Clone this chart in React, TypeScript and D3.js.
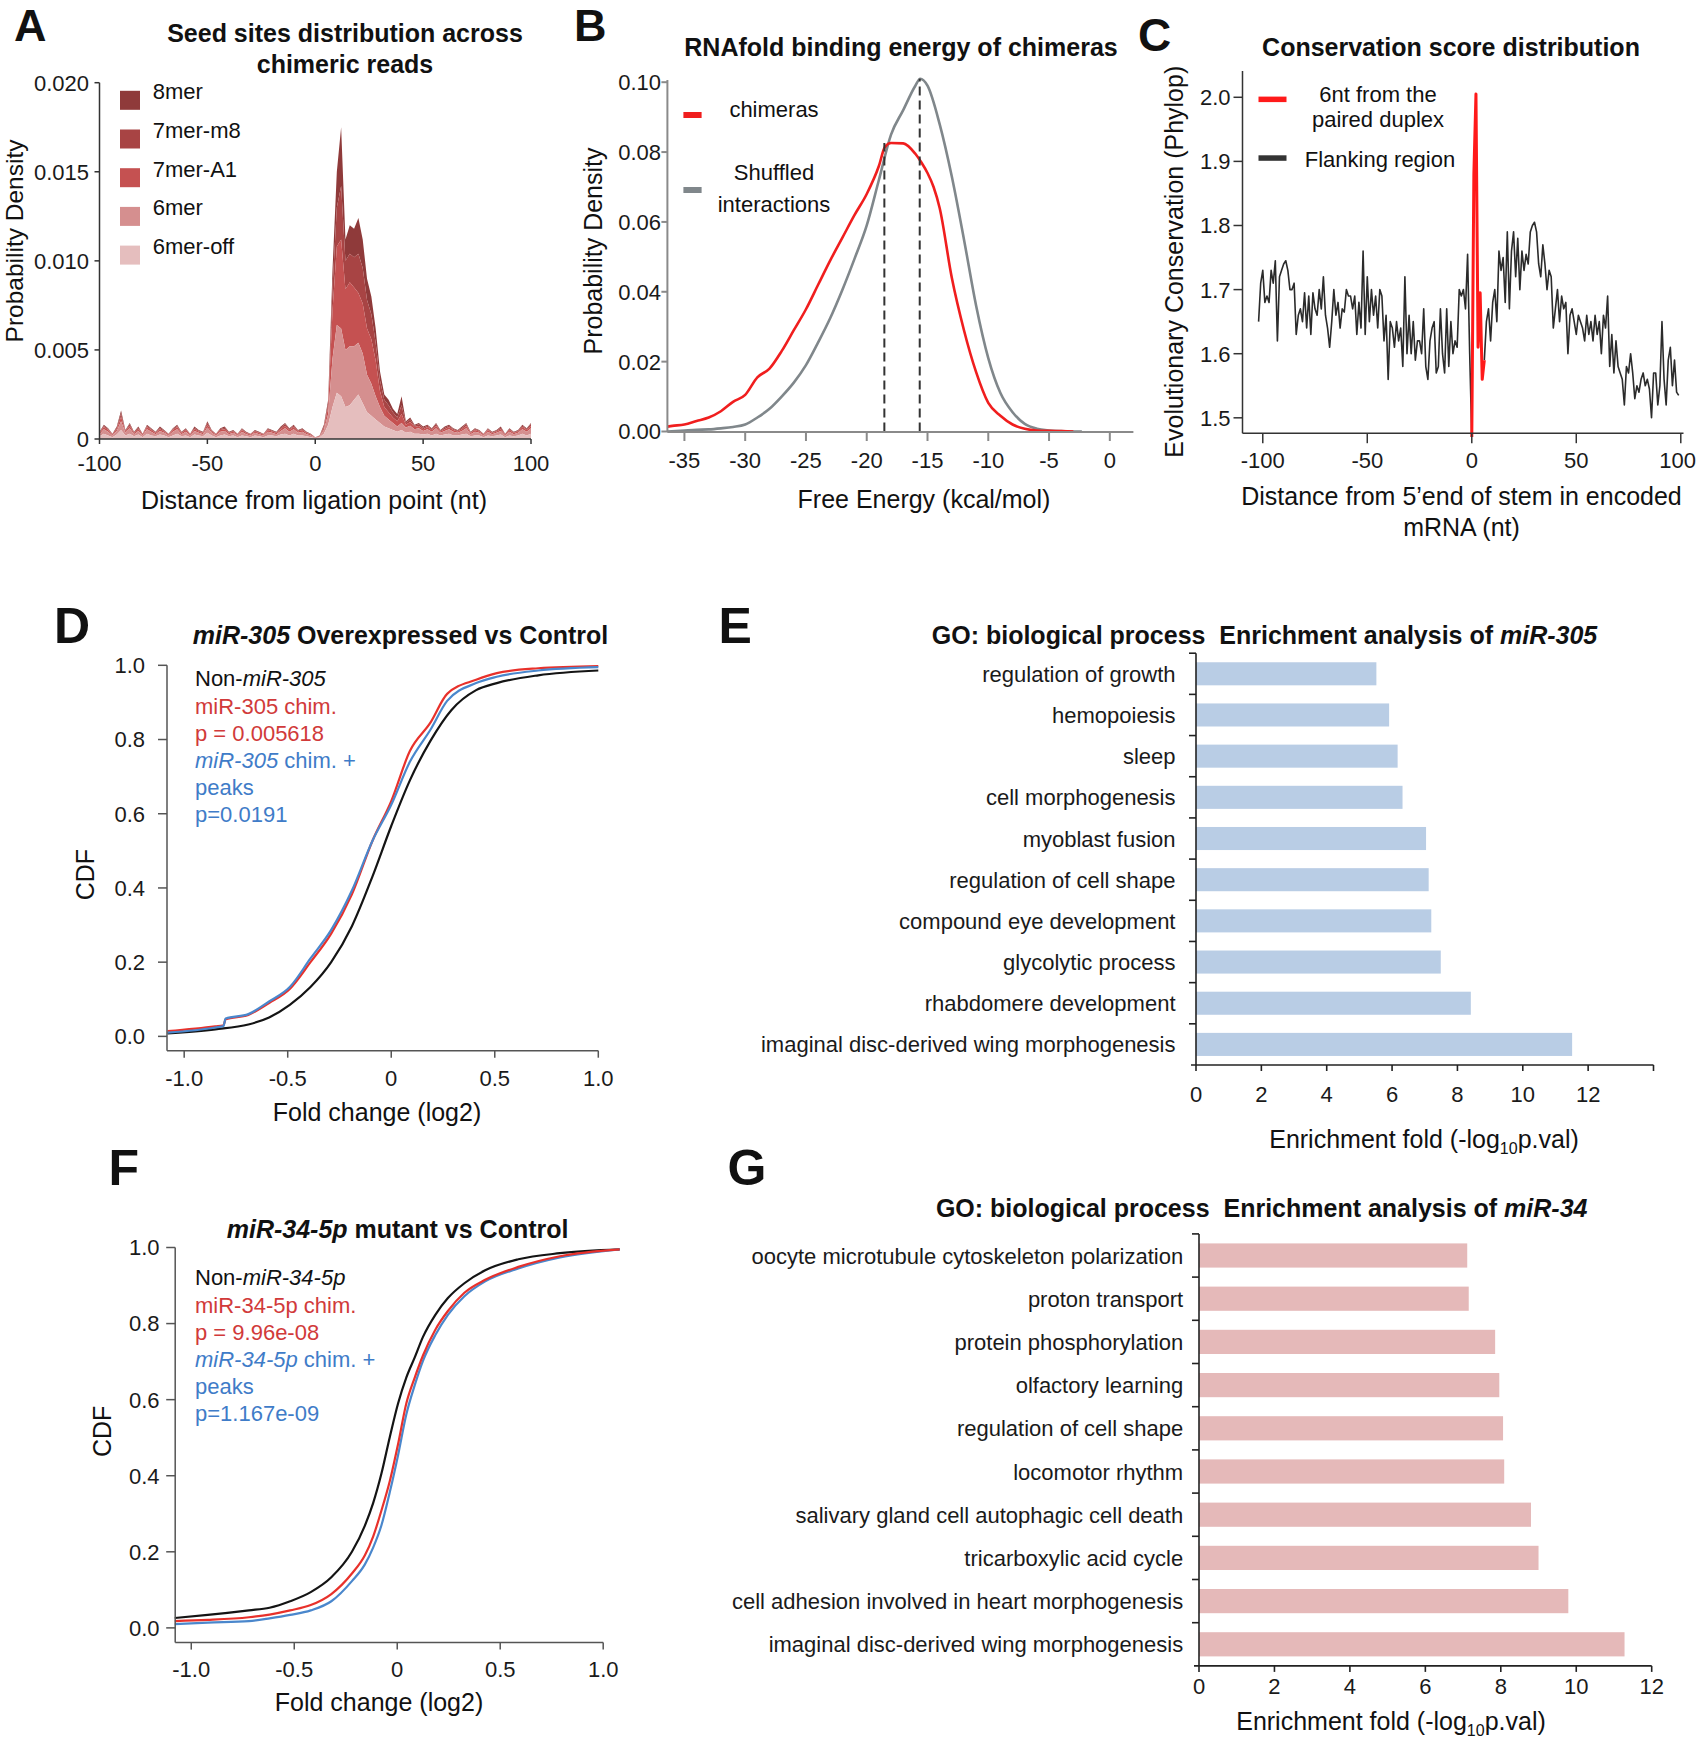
import React, { useEffect, useRef } from 'react';
import * as d3 from 'd3';

const W = 1697;
const H = 1739;
const FONT = "'Liberation Sans', Arial, Helvetica, sans-serif";

// ---------- A: seed sites density (units of 1e-4), -100..100 nt, every 2 nt
const SEED_START = -100;
const SEED_STEP = 2;
const seedLabels = ['8mer', '7mer-m8', '7mer-A1', '6mer', '6mer-off'];
const seedColors = ['#8f3a3a', '#a84444', '#c55151', '#d58f8f', '#e5bebe'];
const seed6merOff = [
  1.5, 3, 2, 1, 2.5, 5, 2, 3, 1.5, 2.5, 1, 3, 2, 1.5, 2.5, 2, 1, 2, 3, 1.5, 2, 1, 2.5, 2, 1.5, 3.5, 2, 1, 2, 2.5,
  1.5, 2, 1, 2, 1.5, 1, 2, 1.5, 1, 2, 2, 1.5, 2.5, 3, 2, 3, 2, 2, 1.5, 1,
  0.4, 0.8, 3, 8, 18, 26, 24, 18, 19, 22, 25, 20, 15, 13, 11, 9, 7, 6, 5, 4, 5,
  3.5, 4, 3, 3, 2.5, 3, 2, 3, 2, 2.5, 3, 2, 2, 2.5, 3, 1.5, 2, 2, 1, 2, 1.5, 2, 2.5, 1, 2, 1.5, 2, 3, 2, 3,
];
const seed6mer = [
  1.2, 2.5, 2, 1, 2, 5, 1.5, 3, 1.2, 2, 1, 2.5, 2, 1.2, 2, 1.5, 1, 2, 2.5, 1.2, 2, 1, 2, 1.5, 1.2, 3, 1.5, 1, 2, 2,
  1.2, 1.5, 1, 2, 1.2, 1, 1.5, 1.2, 1, 2, 1.5, 1.2, 2, 3, 2, 2.5, 1.5, 2, 1.2, 1,
  0.3, 0.5, 2, 6, 27, 38, 38, 32, 33, 30, 29, 28, 21, 18, 13, 9, 6, 5, 4, 3, 4,
  3, 3.5, 2.5, 3, 2, 2.5, 2, 3, 1.5, 2, 2.5, 2, 1.5, 2, 3, 1.2, 2, 1.5, 1, 2, 1.2, 1.5, 2, 1, 2, 1.2, 1.5, 2.5, 2, 3,
];
const seed7merA1 = [
  0.6, 1.2, 1, 0.5, 1, 2.5, 0.7, 1.5, 0.6, 1, 0.5, 1.2, 1, 0.6, 1, 0.7, 0.5, 1, 1.2, 0.6, 1, 0.5, 1, 0.7, 0.6, 1.5, 0.7, 0.5, 1, 1,
  0.6, 0.7, 0.5, 1, 0.6, 0.5, 0.7, 0.6, 0.5, 1, 0.7, 0.6, 1, 1.5, 1, 1.2, 0.7, 1, 0.6, 0.5,
  0.15, 0.3, 1, 4, 27, 44, 50, 34, 36, 33, 28, 28, 26, 25, 20, 9, 5, 4, 3, 3, 5,
  1.5, 2, 1.2, 1.3, 1, 1.2, 1, 1.5, 0.7, 1, 1.2, 1, 0.7, 1, 1.5, 0.6, 1, 0.7, 0.5, 1, 0.6, 0.7, 1, 0.5, 1, 0.6, 0.7, 1.2, 1, 1.5,
];
const seed7merM8 = [
  0.4, 0.8, 0.6, 0.3, 0.8, 2, 0.5, 0.9, 0.4, 0.8, 0.3, 0.8, 0.6, 0.4, 0.8, 0.5, 0.3, 0.6, 0.8, 0.4, 0.6, 0.3, 0.8, 0.5, 0.4, 1.2, 0.5, 0.3, 0.6, 0.8,
  0.4, 0.5, 0.3, 0.6, 0.4, 0.3, 0.5, 0.4, 0.3, 0.6, 0.5, 0.4, 0.8, 0.9, 0.6, 0.8, 0.5, 0.6, 0.4, 0.3,
  0.1, 0.2, 1, 2, 13, 22, 30, 16, 16, 17, 22, 20, 16, 14, 10, 6, 4, 4, 3, 2, 5,
  1.2, 1.5, 0.8, 1, 0.8, 0.8, 0.6, 0.9, 0.5, 0.8, 0.8, 0.6, 0.5, 0.8, 0.9, 0.4, 0.6, 0.5, 0.3, 0.6, 0.4, 0.5, 0.8, 0.3, 0.6, 0.4, 0.5, 0.8, 0.6, 0.9,
];
const seed8mer = [
  0.3, 0.5, 0.4, 0.2, 0.7, 1.5, 0.3, 0.6, 0.3, 0.7, 0.2, 0.5, 0.4, 0.3, 0.7, 0.3, 0.2, 0.4, 0.5, 0.3, 0.4, 0.2, 0.7, 0.3, 0.3, 0.8, 0.3, 0.2, 0.4, 0.7,
  0.3, 0.3, 0.2, 0.4, 0.3, 0.2, 0.3, 0.3, 0.2, 0.4, 0.3, 0.3, 0.7, 0.6, 0.4, 0.5, 0.3, 0.4, 0.3, 0.2,
  0.05, 0.2, 1, 2, 10, 20, 33, 12, 16, 16, 20, 16, 12, 10, 8, 5, 3, 3, 2, 2, 5,
  0.8, 1, 0.5, 0.7, 0.7, 0.5, 0.4, 0.6, 0.3, 0.7, 0.5, 0.4, 0.3, 0.7, 0.6, 0.3, 0.4, 0.3, 0.2, 0.4, 0.3, 0.3, 0.7, 0.2, 0.4, 0.3, 0.3, 0.5, 0.4, 0.6,
];
const seedTicksY = [0, 0.005, 0.01, 0.015, 0.02];
const seedTickLabelsY = ['0', '0.005', '0.010', '0.015', '0.020'];

// ---------- B: RNAfold binding energy
const chimX = [-36.4, -36, -35, -34, -33, -32, -31, -30, -29, -28, -27, -26, -25, -24, -23, -22, -21, -20, -19, -18.5, -18, -17, -16, -15.5, -15, -14.5, -14, -13, -12, -11, -10, -9, -8, -7, -6, -5, -4, -3];
const chimY = [0.0014, 0.0016, 0.002, 0.003, 0.004, 0.0058, 0.0085, 0.0105, 0.0155, 0.018, 0.023, 0.029, 0.035, 0.042, 0.049, 0.0555, 0.062, 0.068, 0.076, 0.0815, 0.0826, 0.0825, 0.0795, 0.077, 0.074, 0.07, 0.064, 0.044, 0.029, 0.017, 0.0082, 0.0045, 0.002, 0.0008, 0.0003, 0.0002, 0.0001, 0];
const shufX = [-36.4, -35, -34, -33, -32, -31, -30, -29, -28, -27, -26, -25, -24, -23, -22, -21, -20, -19, -18, -17, -16, -15.6, -15, -14, -13, -12, -11, -10, -9, -8, -7, -6, -5, -4, -3, -2.3];
const shufY = [0, 0.0003, 0.0005, 0.0006, 0.0009, 0.0013, 0.002, 0.004, 0.0065, 0.01, 0.014, 0.019, 0.0255, 0.0325, 0.0406, 0.0495, 0.059, 0.072, 0.085, 0.092, 0.099, 0.101, 0.099, 0.088, 0.073, 0.055, 0.036, 0.021, 0.011, 0.0055, 0.0022, 0.0008, 0.0003, 0.0001, 0, 0];
const chimMedian = -18.55;
const shufMedian = -15.64;
const energyTicks = [-35, -30, -25, -20, -15, -10, -5, 0];
const densityTicks = [0, 0.02, 0.04, 0.06, 0.08, 0.1];

// ---------- C: conservation (phyloP)
const FLANK_LEFT_START = -102;
const flankLeft = [
  1.65, 1.71, 1.73, 1.68, 1.69, 1.68, 1.73, 1.71, 1.745, 1.62,
  1.72, 1.73, 1.74, 1.745, 1.73, 1.7, 1.7, 1.71, 1.63, 1.66,
  1.67, 1.65, 1.695, 1.64, 1.69, 1.63, 1.695, 1.67, 1.66, 1.7,
  1.67, 1.72, 1.66, 1.64, 1.61, 1.65, 1.7, 1.66, 1.68, 1.64,
  1.67, 1.665, 1.7, 1.69, 1.69, 1.67, 1.69, 1.63, 1.68, 1.64,
  1.76, 1.63, 1.72, 1.65, 1.7, 1.66, 1.69, 1.64, 1.7, 1.69,
  1.62, 1.66, 1.56, 1.65, 1.64, 1.61, 1.65, 1.62, 1.64, 1.58,
  1.72, 1.6, 1.66, 1.6, 1.65, 1.59, 1.62, 1.62, 1.6, 1.67,
  1.58, 1.56, 1.62, 1.64, 1.65, 1.57, 1.58, 1.67, 1.6, 1.57,
  1.67, 1.58, 1.65, 1.6, 1.62, 1.61, 1.7, 1.69, 1.7, 1.67,
  1.755, 1.6, 1.47,
];
const DUPLEX_START = 0;
const duplex = [1.47, 1.88, 2.005, 1.61, 1.695, 1.56, 1.59];
const FLANK_RIGHT_START = 6;
const flankRight = [
  1.59, 1.65, 1.67, 1.62, 1.68, 1.7, 1.65, 1.76, 1.73, 1.75,
  1.68, 1.79, 1.67, 1.76, 1.79, 1.72, 1.78, 1.7, 1.76, 1.73,
  1.755, 1.74, 1.79, 1.8, 1.805, 1.79, 1.74, 1.72, 1.77, 1.74,
  1.7, 1.73, 1.72, 1.64, 1.67, 1.7, 1.65, 1.69, 1.67, 1.68,
  1.6, 1.66, 1.67, 1.65, 1.63, 1.66, 1.65, 1.64, 1.62, 1.66,
  1.63, 1.65, 1.62, 1.66, 1.63, 1.65, 1.6, 1.66, 1.64, 1.69,
  1.58, 1.63, 1.57, 1.62, 1.58, 1.57, 1.56, 1.52, 1.58, 1.57,
  1.6, 1.57, 1.53, 1.55, 1.54, 1.56, 1.57, 1.55, 1.56, 1.545,
  1.5, 1.57, 1.57, 1.52, 1.55, 1.65, 1.56, 1.52, 1.59, 1.61,
  1.55, 1.59, 1.54, 1.535,
];
const consTicksY = [1.5, 1.6, 1.7, 1.8, 1.9, 2.0];
const consTicksX = [-100, -50, 0, 50, 100];

// ---------- D: miR-305 overexpressed vs control (CDF)
const d305X = [-1.08, -0.85, -0.69, -0.59, -0.49, -0.39, -0.29, -0.19, -0.09, 0, 0.09, 0.19, 0.29, 0.41, 0.51, 0.71, 1.0];
const d305Non = [0.008, 0.019, 0.032, 0.051, 0.085, 0.133, 0.2, 0.297, 0.432, 0.567, 0.69, 0.797, 0.879, 0.933, 0.952, 0.973, 0.986];
const d305ChimX = [-1.08, -0.85, -0.81, -0.8, -0.69, -0.59, -0.49, -0.39, -0.29, -0.19, -0.09, 0, 0.09, 0.19, 0.27, 0.41, 0.51, 0.71, 1.0];
const d305Chim = [0.014, 0.027, 0.03, 0.046, 0.058, 0.09, 0.128, 0.2, 0.277, 0.383, 0.528, 0.634, 0.769, 0.846, 0.923, 0.961, 0.979, 0.992, 0.998];
const d305Peaks = [0.01, 0.024, 0.028, 0.048, 0.06, 0.094, 0.133, 0.21, 0.287, 0.393, 0.528, 0.624, 0.74, 0.827, 0.904, 0.952, 0.969, 0.986, 0.995];

// ---------- F: miR-34-5p mutant vs control (CDF)
const f34X = [-1.08, -0.92, -0.72, -0.62, -0.52, -0.42, -0.32, -0.22, -0.157, -0.117, -0.077, -0.036, 0.004, 0.044, 0.085, 0.125, 0.185, 0.246, 0.326, 0.427, 0.588, 0.79, 1.08];
const f34Non = [0.026, 0.034, 0.046, 0.053, 0.07, 0.094, 0.133, 0.2, 0.269, 0.328, 0.405, 0.502, 0.59, 0.658, 0.711, 0.765, 0.823, 0.867, 0.906, 0.94, 0.969, 0.985, 0.995];
const f34Chim = [0.018, 0.021, 0.028, 0.035, 0.046, 0.06, 0.089, 0.143, 0.191, 0.24, 0.308, 0.386, 0.483, 0.59, 0.658, 0.716, 0.784, 0.833, 0.881, 0.915, 0.949, 0.977, 0.995];
const f34Peaks = [0.01, 0.014, 0.018, 0.025, 0.034, 0.046, 0.07, 0.123, 0.167, 0.211, 0.269, 0.357, 0.454, 0.561, 0.638, 0.702, 0.77, 0.823, 0.872, 0.911, 0.945, 0.974, 0.995];

const cdfTicksX = [-1, -0.5, 0, 0.5, 1];
const cdfTickLabelsX = ['-1.0', '-0.5', '0', '0.5', '1.0'];
const cdfTicksY = [0, 0.2, 0.4, 0.6, 0.8, 1.0];

// ---------- E / G: GO enrichment
const go305Terms = ['regulation of growth', 'hemopoiesis', 'sleep', 'cell morphogenesis', 'myoblast fusion', 'regulation of cell shape', 'compound eye development', 'glycolytic process', 'rhabdomere development', 'imaginal disc-derived wing morphogenesis'];
const go305Scores = [5.52, 5.91, 6.17, 6.32, 7.04, 7.12, 7.2, 7.49, 8.41, 11.51];
const go34Terms = ['oocyte microtubule cytoskeleton polarization', 'proton transport', 'protein phosphorylation', 'olfactory learning', 'regulation of cell shape', 'locomotor rhythm', 'salivary gland cell autophagic cell death', 'tricarboxylic acid cycle', 'cell adhesion involved in heart morphogenesis', 'imaginal disc-derived wing morphogenesis'];
const go34Scores = [7.11, 7.15, 7.85, 7.96, 8.06, 8.09, 8.8, 9.0, 9.79, 11.28];
const goTicks = [0, 2, 4, 6, 8, 10, 12];

type G = d3.Selection<SVGGElement, unknown, null, undefined>;

function text(g: G, x: number, y: number, s: string, o: any = {}) {
  const t = g.append('text')
    .attr('x', x).attr('y', y)
    .attr('font-family', FONT)
    .attr('font-size', o.size ?? 22)
    .attr('font-weight', o.weight ?? 'normal')
    .attr('text-anchor', o.anchor ?? 'start')
    .attr('fill', o.fill ?? '#111');
  if (o.italic) t.attr('font-style', 'italic');
  if (o.rotate) t.attr('transform', `rotate(${o.rotate},${x},${y})`);
  t.text(s);
  return t;
}

// text made of [string, italic] parts
function rich(g: G, x: number, y: number, parts: [string, boolean][], o: any = {}) {
  const t = g.append('text')
    .attr('x', x).attr('y', y)
    .attr('font-family', FONT)
    .attr('font-size', o.size ?? 22)
    .attr('font-weight', o.weight ?? 'normal')
    .attr('text-anchor', o.anchor ?? 'start')
    .attr('fill', o.fill ?? '#111')
    .style('white-space', 'pre');
  parts.forEach(([s, it]) => {
    t.append('tspan').attr('font-style', it ? 'italic' : 'normal').text(s);
  });
  return t;
}

function axisBottom(g: G, x: any, o: any) {
  g.append('line').attr('x1', o.from).attr('x2', o.to).attr('y1', o.y).attr('y2', o.y)
    .attr('stroke', o.stroke).attr('stroke-width', o.sw);
  o.ticks.forEach((t: number, i: number) => {
    g.append('line').attr('x1', x(t)).attr('x2', x(t)).attr('y1', o.y).attr('y2', o.y + o.tick)
      .attr('stroke', o.stroke).attr('stroke-width', o.sw);
    const lab = o.fmt(t, i);
    if (!lab) return;
    const el = text(g, x(t), o.base, lab, { anchor: 'middle', size: o.size ?? 22, fill: '#1a1a1a' });
    // keep the last label inside the page edge
    if (o.maxRight) {
      const bb = (el.node() as SVGTextElement).getBBox();
      if (bb.x + bb.width > o.maxRight) el.attr('text-anchor', 'end').attr('x', o.maxRight);
    }
  });
}

function axisLeft(g: G, y: any, o: any) {
  g.append('line').attr('x1', o.x).attr('x2', o.x).attr('y1', o.from).attr('y2', o.to)
    .attr('stroke', o.stroke).attr('stroke-width', o.sw);
  o.ticks.forEach((t: number, i: number) => {
    g.append('line').attr('x1', o.x - o.tick).attr('x2', o.x).attr('y1', y(t)).attr('y2', y(t))
      .attr('stroke', o.stroke).attr('stroke-width', o.sw);
    const lab = o.fmt(t, i);
    if (lab) text(g, o.right, y(t) + 7.9, lab, { anchor: 'end', size: o.size ?? 22, fill: '#1a1a1a' });
  });
}

function panelA(g: G) {
  const x = d3.scaleLinear().domain([-100, 100]).range([99.5, 531]);
  const y = d3.scaleLinear().domain([0, 0.02]).range([439, 82.7]);
  const rows = seed6merOff.map((_, i) => ({
    x: SEED_START + i * SEED_STEP,
    off: seed6merOff[i] / 1e4,
    six: seed6mer[i] / 1e4,
    a1: seed7merA1[i] / 1e4,
    m8: seed7merM8[i] / 1e4,
    eight: seed8mer[i] / 1e4,
  }));
  const keys = ['off', 'six', 'a1', 'm8', 'eight'];
  const colorByKey: Record<string, string> = {
    eight: seedColors[0], m8: seedColors[1], a1: seedColors[2], six: seedColors[3], off: seedColors[4],
  };
  const series = d3.stack<any>().keys(keys)(rows);
  const area = d3.area<any>().x(d => x(d.data.x)).y0(d => y(d[0])).y1(d => y(d[1]));
  series.slice().reverse().forEach(s => {
    g.append('path').datum(s).attr('d', area).attr('fill', colorByKey[s.key]).attr('stroke', 'none');
  });

  axisLeft(g, y, { x: 99.5, from: 82.7, to: 439, ticks: seedTicksY, fmt: (_: number, i: number) => seedTickLabelsY[i], tick: 5, right: 89, stroke: '#333', sw: 1.5 });
  axisBottom(g, x, { y: 439, from: 99.5, to: 531, ticks: [-100, -50, 0, 50, 100], fmt: (t: number) => String(t), tick: 5, base: 471, stroke: '#333', sw: 1.5 });

  seedLabels.forEach((lab, i) => {
    const cy = 100.3 + i * 38.7;
    g.append('rect').attr('x', 120).attr('y', cy - 9.5).attr('width', 20).attr('height', 19).attr('fill', seedColors[i]);
    text(g, 152.7, cy - 1, lab, { size: 22 });
  });

  text(g, 345, 42, 'Seed sites distribution across', { size: 25, weight: 'bold', anchor: 'middle' });
  text(g, 345, 73, 'chimeric reads', { size: 25, weight: 'bold', anchor: 'middle' });
  text(g, 314, 509, 'Distance from ligation point (nt)', { size: 25, anchor: 'middle' });
  text(g, 22.5, 241, 'Probability Density', { size: 24.5, anchor: 'middle', rotate: -90 });
  text(g, 14, 41, 'A', { size: 45, weight: 'bold' });
}

function panelB(g: G) {
  const x = d3.scaleLinear().domain([-36.4, 1.94]).range([667.4, 1133.4]);
  const y = d3.scaleLinear().domain([0, 0.1]).range([431.5, 82.2]);
  const line = d3.line<[number, number]>().x(d => x(d[0])).y(d => y(d[1])).curve(d3.curveMonotoneX);

  const grey = '#80878b';
  const red = '#f01e1e';
  g.append('path').datum(shufX.map((v, i) => [v, shufY[i]] as [number, number]))
    .attr('d', line).attr('fill', 'none').attr('stroke', grey).attr('stroke-width', 2.6);
  g.append('path').datum(chimX.map((v, i) => [v, chimY[i]] as [number, number]))
    .attr('d', line).attr('fill', 'none').attr('stroke', red).attr('stroke-width', 2.6);

  [[chimMedian, d3.max(chimY)!], [shufMedian, d3.max(shufY)!]].forEach(([m, top]) => {
    g.append('line').attr('x1', x(m)).attr('x2', x(m)).attr('y1', y(0)).attr('y2', y(top))
      .attr('stroke', '#333').attr('stroke-width', 2).attr('stroke-dasharray', '9,5');
  });

  axisLeft(g, y, { x: 667.4, from: 80, to: 432, ticks: densityTicks, fmt: (t: number) => d3.format('.2f')(t), tick: 6, right: 661, stroke: '#8a8a8a', sw: 2 });
  axisBottom(g, x, { y: 432, from: 667.4, to: 1133.4, ticks: energyTicks, fmt: (t: number) => String(t), tick: 9, base: 468, stroke: '#8a8a8a', sw: 2 });

  g.append('rect').attr('x', 683.4).attr('y', 112).attr('width', 18.2).attr('height', 6).attr('fill', red);
  g.append('rect').attr('x', 683.4).attr('y', 187).attr('width', 18.2).attr('height', 6).attr('fill', grey);
  text(g, 774, 117, 'chimeras', { size: 22, anchor: 'middle' });
  text(g, 774, 179.8, 'Shuffled', { size: 22, anchor: 'middle' });
  text(g, 774, 211.8, 'interactions', { size: 22, anchor: 'middle' });

  text(g, 901, 55.8, 'RNAfold binding energy of chimeras', { size: 25, weight: 'bold', anchor: 'middle' });
  text(g, 924, 508, 'Free Energy (kcal/mol)', { size: 25, anchor: 'middle' });
  text(g, 602, 251, 'Probability Density', { size: 25, anchor: 'middle', rotate: -90 });
  text(g, 574, 41, 'B', { size: 45, weight: 'bold' });
}

function panelC(g: G) {
  const x = d3.scaleLinear().domain([-109.7, 101.3]).range([1242.5, 1683.5]);
  const y = d3.scaleLinear().domain([1.476, 2.041]).range([433.2, 71]);
  const mk = (start: number) => d3.line<number>().x((_, i) => x(start + i)).y(d => y(d));

  g.append('path').datum(flankLeft).attr('d', mk(FLANK_LEFT_START)).attr('fill', 'none')
    .attr('stroke', '#2b2b2b').attr('stroke-width', 1.6).attr('stroke-linejoin', 'round');
  g.append('path').datum(flankRight).attr('d', mk(FLANK_RIGHT_START)).attr('fill', 'none')
    .attr('stroke', '#2b2b2b').attr('stroke-width', 1.6).attr('stroke-linejoin', 'round');
  g.append('path').datum(duplex).attr('d', mk(DUPLEX_START)).attr('fill', 'none')
    .attr('stroke', '#ff1a1a').attr('stroke-width', 3).attr('stroke-linejoin', 'round');

  axisLeft(g, y, { x: 1242.5, from: 71, to: 433.2, ticks: consTicksY, fmt: (t: number) => d3.format('.1f')(t), tick: 9, right: 1230.5, stroke: '#333', sw: 1.5 });
  axisBottom(g, x, { y: 433.2, from: 1242.5, to: 1683.5, ticks: consTicksX, fmt: (t: number) => String(t), tick: 10, base: 467.6, stroke: '#333', sw: 1.5, maxRight: 1696 });

  g.append('rect').attr('x', 1258.5).attr('y', 96.6).attr('width', 28).attr('height', 5.5).attr('fill', '#ff1a1a');
  g.append('rect').attr('x', 1258.5).attr('y', 155.3).attr('width', 28).attr('height', 5.5).attr('fill', '#333');
  text(g, 1378, 101.6, '6nt from the', { size: 22, anchor: 'middle' });
  text(g, 1378, 126.5, 'paired duplex', { size: 22, anchor: 'middle' });
  text(g, 1380, 166.5, 'Flanking region', { size: 22, anchor: 'middle' });

  text(g, 1451, 56, 'Conservation score distribution', { size: 25, weight: 'bold', anchor: 'middle' });
  text(g, 1461.5, 504.5, 'Distance from 5\u2019end of stem in encoded', { size: 25, anchor: 'middle' });
  text(g, 1461.5, 535.5, 'mRNA (nt)', { size: 25, anchor: 'middle' });
  text(g, 1183, 261.7, 'Evolutionary Conservation (Phylop)', { size: 25, anchor: 'middle', rotate: -90 });
  text(g, 1138, 50.5, 'C', { size: 46, weight: 'bold' });
}

function cdfPanel(g: G, o: any) {
  const x = d3.scaleLinear().domain(o.xDomain).range([o.x0, o.x1]);
  const y = d3.scaleLinear().domain([o.yMin, 1]).range([o.yBottom, o.yTop]);
  const line = d3.line<[number, number]>().x(d => x(d[0])).y(d => y(d[1])).curve(d3.curveMonotoneX);
  o.series.forEach((s: any) => {
    g.append('path').datum(s.xs.map((v: number, i: number) => [v, s.ys[i]]))
      .attr('d', line).attr('fill', 'none').attr('stroke', s.color).attr('stroke-width', 2.2);
  });
  axisLeft(g, y, { x: o.x0, from: o.yTop, to: o.yBottom, ticks: cdfTicksY, fmt: (t: number) => d3.format('.1f')(t), tick: 9, right: o.yLabRight, stroke: '#555', sw: 1.5 });
  axisBottom(g, x, { y: o.yBottom, from: o.x0, to: o.x1, ticks: cdfTicksX, fmt: (_: number, i: number) => cdfTickLabelsX[i], tick: 7, base: o.xLabBase, stroke: '#555', sw: 1.5 });
}

function panelD(g: G) {
  const red = '#e8312b', blue = '#4a87cc';
  cdfPanel(g, {
    xDomain: [-1.083, 1.0], x0: 167, x1: 598.3,
    yMin: -0.0386, yBottom: 1050.7, yTop: 665.3, yLabRight: 145, xLabBase: 1086,
    series: [
      { xs: d305X, ys: d305Non, color: '#141414' },
      { xs: d305ChimX, ys: d305Chim, color: red },
      { xs: d305ChimX, ys: d305Peaks, color: blue },
    ],
  });
  const tr = '#d13a3a', tb = '#3f7cc8';
  rich(g, 195, 686, [['Non-', false], ['miR-305', true]], { size: 22 });
  text(g, 195, 713.5, 'miR-305 chim.', { size: 22, fill: tr });
  text(g, 195, 741, 'p = 0.005618', { size: 22, fill: tr });
  rich(g, 195, 768, [['miR-305', true], [' chim. +', false]], { size: 22, fill: tb });
  text(g, 195, 795, 'peaks', { size: 22, fill: tb });
  text(g, 195, 822, 'p=0.0191', { size: 22, fill: tb });

  rich(g, 400.5, 644.3, [['miR-305', true], [' Overexpressed vs Control', false]], { size: 25, weight: 'bold', anchor: 'middle' });
  text(g, 377, 1121, 'Fold change (log2)', { size: 25, anchor: 'middle' });
  text(g, 94, 874.6, 'CDF', { size: 25, anchor: 'middle', rotate: -90 });
  text(g, 54, 642.5, 'D', { size: 50, weight: 'bold' });
}

function panelF(g: G) {
  const red = '#e8312b', blue = '#4a87cc';
  cdfPanel(g, {
    xDomain: [-1.078, 1.0], x0: 175.2, x1: 603.2,
    yMin: -0.0387, yBottom: 1642.6, yTop: 1247.5, yLabRight: 159.6, xLabBase: 1677,
    series: [
      { xs: f34X, ys: f34Non, color: '#141414' },
      { xs: f34X, ys: f34Peaks, color: blue },
      { xs: f34X, ys: f34Chim, color: red },
    ],
  });
  const tr = '#d13a3a', tb = '#3f7cc8';
  rich(g, 195, 1285, [['Non-', false], ['miR-34-5p', true]], { size: 22 });
  text(g, 195, 1313, 'miR-34-5p chim.', { size: 22, fill: tr });
  text(g, 195, 1340, 'p = 9.96e-08', { size: 22, fill: tr });
  rich(g, 195, 1367, [['miR-34-5p', true], [' chim. +', false]], { size: 22, fill: tb });
  text(g, 195, 1394, 'peaks', { size: 22, fill: tb });
  text(g, 195, 1421, 'p=1.167e-09', { size: 22, fill: tb });

  rich(g, 397.6, 1237.5, [['miR-34-5p', true], [' mutant vs Control', false]], { size: 25, weight: 'bold', anchor: 'middle' });
  text(g, 379, 1711, 'Fold change (log2)', { size: 25, anchor: 'middle' });
  text(g, 111, 1431.4, 'CDF', { size: 25, anchor: 'middle', rotate: -90 });
  text(g, 108.5, 1185, 'F', { size: 50, weight: 'bold' });
}

function goPanel(g: G, o: any) {
  const y = d3.scaleBand<string>().domain(o.terms).range([o.yTop, o.yBottom]).paddingInner(0.44).paddingOuter(0.22);
  const x = d3.scaleLinear().domain([0, o.xMax]).range([o.x0, o.x1]);
  o.terms.forEach((t: string, i: number) => {
    g.append('rect').attr('x', x(0)).attr('y', y(t)!).attr('width', x(o.scores[i]) - x(0))
      .attr('height', y.bandwidth()).attr('fill', o.color);
    text(g, o.labRight, y(t)! + y.bandwidth() / 2 + 8, t, { size: 22, anchor: 'end', fill: '#1a1a1a' });
  });
  const step = y.step();
  g.append('line').attr('x1', o.x0).attr('x2', o.x0).attr('y1', o.yTop).attr('y2', o.yBottom)
    .attr('stroke', '#222').attr('stroke-width', 1.6);
  o.terms.forEach((_: string, i: number) => {
    const yy = o.yTop + i * step;
    g.append('line').attr('x1', o.x0 - 7).attr('x2', o.x0).attr('y1', yy).attr('y2', yy)
      .attr('stroke', '#222').attr('stroke-width', 1.6);
  });
  axisBottom(g, x, { y: o.yBottom, from: o.x0 - 5, to: o.x1, ticks: o.axisTicks, fmt: (t: number) => (goTicks.includes(t) ? String(t) : ''), tick: 6, base: o.labBase, stroke: '#222', sw: 1.6 });

  rich(g, o.titleX, o.titleY, [['GO: biological process  Enrichment analysis of ', false], [o.mir, true]], { size: 25, weight: 'bold', anchor: 'middle' });
  const xt = g.append('text').attr('x', o.xtX).attr('y', o.xtY).attr('font-family', FONT).attr('font-size', 25)
    .attr('text-anchor', 'middle').attr('fill', '#111');
  xt.append('tspan').text('Enrichment fold (-log');
  xt.append('tspan').attr('font-size', 16).attr('dy', 6).text('10');
  xt.append('tspan').attr('dy', -6).text('p.val)');
}

function panelE(g: G) {
  goPanel(g, {
    terms: go305Terms, scores: go305Scores, color: '#b9cde5', mir: 'miR-305',
    yTop: 653.2, yBottom: 1065, x0: 1196, x1: 1653.5, xMax: 14, axisTicks: [0, 2, 4, 6, 8, 10, 12, 14],
    labRight: 1175.5, labBase: 1102, titleX: 1264.5, titleY: 644.3, xtX: 1424, xtY: 1148,
  });
  text(g, 718.5, 642.5, 'E', { size: 50, weight: 'bold' });
}

function panelG(g: G) {
  goPanel(g, {
    terms: go34Terms, scores: go34Scores, color: '#e5b9b9', mir: 'miR-34',
    yTop: 1233.9, yBottom: 1665.9, x0: 1199, x1: 1651.7, xMax: 12, axisTicks: goTicks,
    labRight: 1183.2, labBase: 1694, titleX: 1261.7, titleY: 1217.2, xtX: 1391, xtY: 1730,
  });
  text(g, 727.5, 1185, 'G', { size: 50, weight: 'bold' });
}

const App: React.FC = () => {
  const svgRef = useRef<SVGSVGElement>(null);

  useEffect(() => {
    if (!svgRef.current) return;
    const svg = d3.select(svgRef.current);
    svg.selectAll('*').remove();
    svg.append('rect').attr('width', W).attr('height', H).attr('fill', '#ffffff');
    const g = svg.append('g') as unknown as G;
    panelA(g);
    panelB(g);
    panelC(g);
    panelD(g);
    panelE(g);
    panelF(g);
    panelG(g);
  }, []);

  return (
    <div style={{ position: 'absolute', left: 0, top: 0, background: '#fff' }}>
      <svg ref={svgRef} width={W} height={H} style={{ display: 'block' }}></svg>
    </div>
  );
};

export default App;
